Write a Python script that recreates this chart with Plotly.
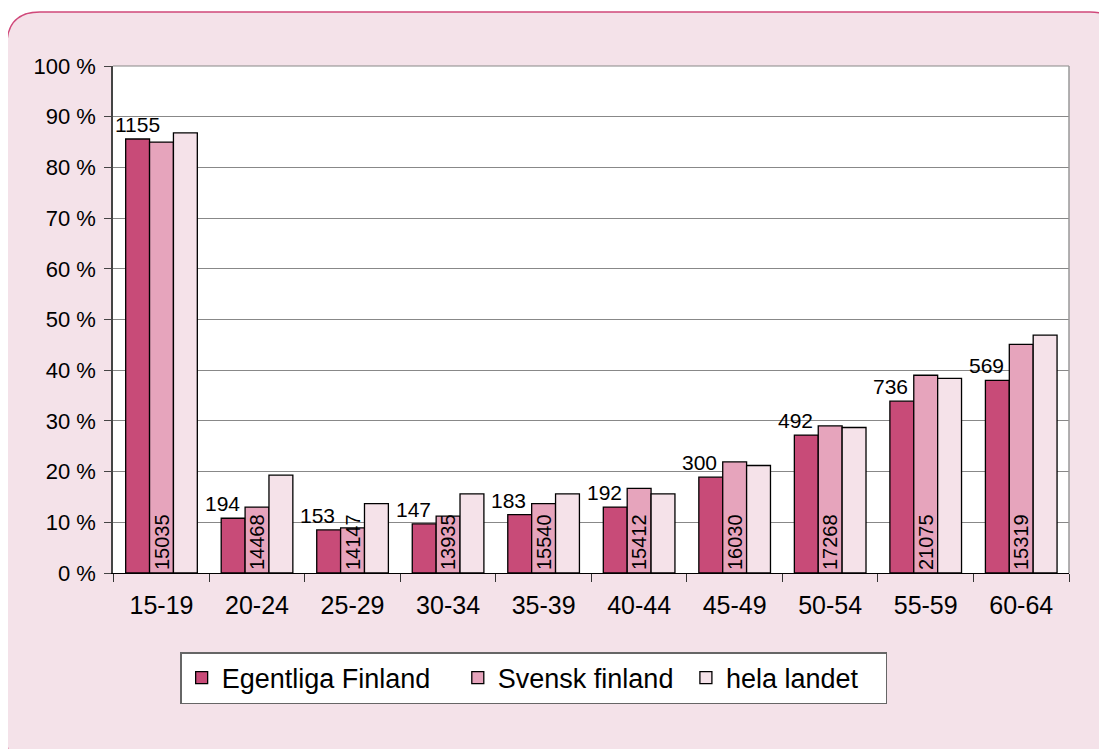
import plotly.graph_objects as go

# age groups and shares (%)
categories = ["15-19", "20-24", "25-29", "30-34", "35-39", "40-44", "45-49", "50-54", "55-59", "60-64"]
egentliga = [85.6, 10.8, 8.5, 9.7, 11.5, 13.0, 18.9, 27.2, 33.9, 38.0]
svensk = [85.0, 13.0, 8.9, 11.2, 13.7, 16.7, 21.9, 29.0, 39.0, 45.1]
hela = [86.8, 19.3, 13.7, 15.6, 15.6, 15.6, 21.2, 28.7, 38.4, 46.9]

# counts printed on the bars
egentliga_n = [1155, 194, 153, 147, 183, 192, 300, 492, 736, 569]
svensk_n = [15035, 14468, 14147, 13935, 15540, 15412, 16030, 17268, 21075, 15319]

NBSP = "\u00a0"
series_names = ["Egentliga Finland", "Svensk finland", "hela landet"]

# the page body has an 8px margin, so figure px = page px - 8
W, H = 1107, 749
L, T = 105, 58
R = W - 1061
B = H - 565
FONT = "Liberation Sans, Arial, Helvetica, sans-serif"


def pp(x, y):
    # pixel -> paper coords
    return f"{(x - L) / (W - L - R):.5f},{(H - B - y) / (H - T - B):.5f}"


def rounded_box(x0, y0, x1, y1, r):
    return (f"M {pp(x0 + r, y0)} L {pp(x1 - r, y0)} Q {pp(x1, y0)} {pp(x1, y0 + r)} "
            f"L {pp(x1, y1 - r)} Q {pp(x1, y1)} {pp(x1 - r, y1)} "
            f"L {pp(x0 + r, y1)} Q {pp(x0, y1)} {pp(x0, y1 - r)} "
            f"L {pp(x0, y0 + r)} Q {pp(x0, y0)} {pp(x0 + r, y0)} Z")


fig = go.Figure()

fig.add_trace(go.Bar(
    x=categories, y=egentliga, name=series_names[0] + NBSP * 3,
    marker=dict(color="#C84B78", line=dict(color="black", width=1.3)),
))
fig.add_trace(go.Bar(
    x=categories, y=svensk, name=series_names[1] + NBSP,
    marker=dict(color="#E6A4BC", line=dict(color="black", width=1.3)),
    text=[str(v) for v in svensk_n], textposition="inside", textangle=-90,
    insidetextanchor="start", constraintext="none",
    textfont=dict(size=20, color="black", family=FONT),
))
fig.add_trace(go.Bar(
    x=categories, y=hela, name=series_names[2] + NBSP * 3,
    marker=dict(color="#F5E2E9", line=dict(color="black", width=1.3)),
))

# counts above the first series, nudged left like in the original
annotations = []
for i, (cat, val, n) in enumerate(zip(categories, egentliga, egentliga_n)):
    annotations.append(dict(
        x=cat, y=val, xref="x", yref="y", text=str(n), showarrow=False,
        xanchor="center", yanchor="bottom", xshift=-24 if i == 0 else -35, yshift=1,
        font=dict(size=21, color="black", family=FONT),
    ))

fig.update_layout(
    width=W, height=H,
    margin=dict(l=L, r=R, t=T, b=B),
    paper_bgcolor="white",
    plot_bgcolor="white",
    barmode="group",
    bargap=0.25,
    bargroupgap=0,
    font=dict(family=FONT, color="black"),
    showlegend=True,
    legend=dict(
        orientation="h", x=0.44, xanchor="center", y=-0.156, yanchor="top",
        bgcolor="white", bordercolor="#666666", borderwidth=1.5,
        font=dict(size=27, color="black", family=FONT),
    ),
    annotations=annotations,
    shapes=[
        # pink rounded background
        dict(type="path", xref="paper", yref="paper", layer="below",
             path=rounded_box(-1, 4, 1115, 765, 33),
             fillcolor="#F4E2E9", line=dict(color="#D0487A", width=1.3)),
        # white plot area
        dict(type="rect", xref="paper", yref="paper", layer="below",
             x0=0, x1=1, y0=0, y1=1, fillcolor="white", line=dict(width=0)),
        # top and right border of plot area
        dict(type="line", xref="paper", yref="paper", x0=0, x1=1, y0=1, y1=1,
             line=dict(color="#888888", width=1.2)),
        dict(type="line", xref="paper", yref="paper", x0=1, x1=1, y0=0, y1=1,
             line=dict(color="#999999", width=1.5)),
    ],
)

fig.update_xaxes(
    showgrid=False, showline=True, linecolor="black", linewidth=1.3,
    ticks="outside", tickson="boundaries", ticklen=8, tickcolor="#333333",
    ticklabelstandoff=10,
    tickfont=dict(size=25, color="black", family=FONT),
)
fig.update_yaxes(
    range=[0, 100], dtick=10, ticksuffix=" %",
    showgrid=True, gridcolor="#888888", gridwidth=1.2,
    showline=True, linecolor="#444444", linewidth=1.5,
    ticks="outside", ticklen=7, tickcolor="#444444",
    ticklabelstandoff=4,
    tickfont=dict(size=22, color="black", family=FONT),
    zeroline=False,
)

fig.write_html("out.html")
